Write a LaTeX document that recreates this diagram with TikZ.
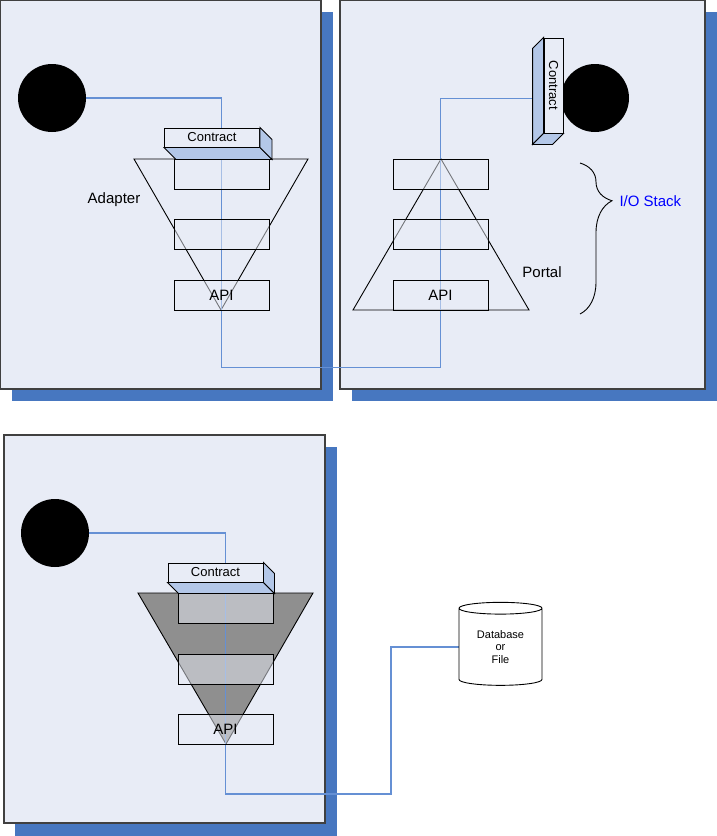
\documentclass[tikz,border=0pt]{standalone}
\usepackage{fontspec}
\setmainfont{Liberation Sans}
\usetikzlibrary{shapes.geometric,decorations.pathreplacing}
\pgfdeclarelayer{background}
\pgfsetlayers{background,main}

\definecolor{panelbg}{HTML}{E8ECF6}
\definecolor{shadowblue}{HTML}{4777C0}
\definecolor{wireblue}{HTML}{6590D4}
\definecolor{faceblue}{HTML}{B3C7E8}
\definecolor{coneshade}{HTML}{8F8F8F}

\begin{document}
\begin{tikzpicture}[x=1pt,y=-1pt,
        panel/.style={draw=black!75, line width=1.2pt, fill=panelbg},
        shadow/.style={fill=shadowblue, draw=none},
        wire/.style={draw=wireblue, line width=1.1pt},
        cone/.style={draw=black, line width=0.9pt},
        layer/.style={draw=black, line width=0.9pt, fill=panelbg, fill opacity=0.5,
                text opacity=1, minimum width=95, minimum height=30, inner sep=0pt,
                font=\fontsize{15}{15}\selectfont},
        contract/.style={draw=black, line width=0.9pt, fill=panelbg, minimum width=95,
                minimum height=19, inner sep=0pt, font=\fontsize{13}{13}\selectfont},
        face/.style={draw=black, line width=0.9pt, fill=faceblue},
        dot/.style={circle, fill=black, minimum size=68, inner sep=0pt},
        label/.style={font=\fontsize{15}{15}\selectfont}]
        \useasboundingbox (0,0) rectangle (717,836);

        % adapter
        \node[dot] (dot1) at (52,98) {};
        \node[contract] (con1) at (212,137.5) {Contract};
        \node[layer] (l11) at (221.5,174) {};
        \node[layer] (l12) at (221.5,234.5) {};
        \node[layer] (api1) at (221.5,295) {API};
        \node[label] (adapter) at (114,200) {Adapter};

        % portal
        \node[dot] (dot2) at (595,98) {};
        \node[contract, rotate=-90] (con2) at (553.5,85.5) {Contract};
        \node[layer] (l21) at (440.5,174) {};
        \node[layer] (l22) at (440.5,234.5) {};
        \node[layer] (api2) at (440.5,295) {API};
        \node[label] (portal) at (542,272) {Portal};

        % adapter with a store behind it
        \node[dot] (dot3) at (55,533) {};
        \node[contract] (con3) at (215.5,572.5) {Contract};
        \node[layer] (l31) at (225.5,608.5) {};
        \node[layer] (l32) at (225.5,669) {};
        \node[layer] (api3) at (225.5,729) {API};
        \node[cylinder, shape border rotate=90, aspect=0.25, draw=black, line width=0.9pt,
                fill=white, minimum width=83, minimum height=83, inner sep=0pt, align=center,
                font=\fontsize{11}{12.5}\selectfont] (db) at (500.5,647) {Database\\or\\File};
        \coordinate (turn) at (391,794);

        \begin{pgfonlayer}{background}
            % panels with their shadows
            \fill[shadow] (12,12) rectangle (333,401);
            \fill[shadow] (352,12) rectangle (717,401);
            \fill[shadow] (15,447) rectangle (337,836);
            \draw[panel] (0.6,0.6) rectangle (321,389);
            \draw[panel] (340,0.6) rectangle (705,389);
            \draw[panel] (4,435) rectangle (325,823);

            % stacks
            \draw[cone] (134,159) -- (308,159) -- (221,310) -- cycle;
            \draw[cone] (441,159) -- (529,310) -- (353,310) -- cycle;
            \filldraw[cone, fill=coneshade] (138,593) -- (313,593) -- (226,744) -- cycle;

            % wires
            \draw[wire] (dot1.east) -| (api1.south);
            \draw[wire] (api1.south) -- ++(0,57) -| (api2.south);
            \draw[wire] ([shift={(-11,13)}]con2.south) -| (api2.south);
            \draw[wire] (dot3.east) -| (api3.south);
            \draw[wire] (api3.south) |- (turn) |- (db.west);
        \end{pgfonlayer}

        % contracts
        \draw[face] (con1.south west) -- ([shift={(12,12)}]con1.south west)
            -- ([shift={(12,12)}]con1.south east) -- (con1.south east) -- cycle;
        \draw[face] (con1.north east) -- ([shift={(12,12)}]con1.north east)
            -- ([shift={(12,12)}]con1.south east) -- (con1.south east) -- cycle;
        \draw[face] (con3.south west) -- ([shift={(11,11)}]con3.south west)
            -- ([shift={(11,11)}]con3.south east) -- (con3.south east) -- cycle;
        \draw[face] (con3.north east) -- ([shift={(11,11)}]con3.north east)
            -- ([shift={(11,11)}]con3.south east) -- (con3.south east) -- cycle;
        \draw[face] (con2.south west) -- ([shift={(-11,11)}]con2.south west)
            -- ([shift={(-11,11)}]con2.south east) -- (con2.south east) -- cycle;
        \draw[face] (con2.south east) -- ([shift={(-11,11)}]con2.south east)
            -- ([shift={(-11,11)}]con2.north east) -- (con2.north east) -- cycle;

        % I/O stack brace
        \coordinate (bracetop) at (580,163);
        \coordinate (bracebot) at (580,314);
        \draw[line width=0.9pt, decorate, decoration={brace, amplitude=32, aspect=0.25}]
            (bracetop) -- (bracebot);
        \node[label, text=blue, anchor=west] (iostack) at (616,201) {I/O Stack};
    \end{tikzpicture}
\end{document}
